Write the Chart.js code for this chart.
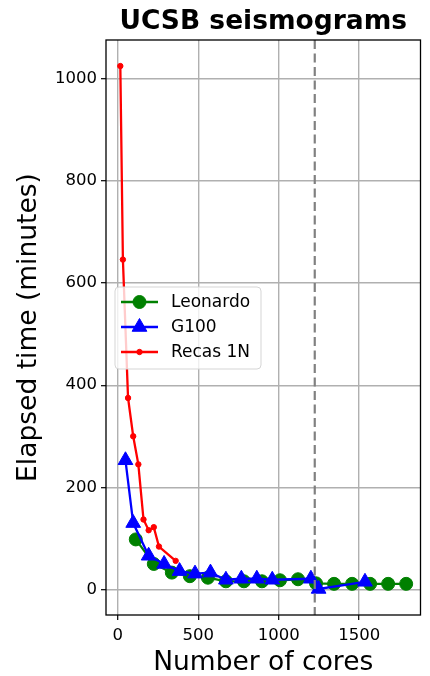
<!DOCTYPE html>
<html>
<head>
<meta charset="utf-8">
<script src="https://cdn.jsdelivr.net/npm/chart.js@4.4.1/dist/chart.umd.min.js"></script>
<style>
html,body{margin:0;padding:0;background:#fff;}
#wrap{width:430px;height:676px;position:relative;}
canvas{display:block;}
</style>
</head>
<body>
<div id="wrap"><canvas id="c" width="430" height="676"></canvas></div>
<script>
// ---- data ----
const leonardoCores = [112, 224, 336, 448, 560, 672, 784, 896, 1008, 1120, 1232, 1344, 1456, 1568, 1680, 1792];
const leonardoTime  = [98, 50, 33, 26, 23, 16, 16, 16, 18, 20, 12, 11, 11, 11, 11, 11];

const g100Cores = [48, 96, 192, 288, 384, 480, 576, 672, 768, 864, 960, 1200, 1248, 1536];
const g100Time  = [253, 130, 66, 50, 36, 31, 33, 19, 21, 21, 19, 21, 1, 15];

const recasCores = [16, 32, 64, 96, 128, 160, 192, 224, 256, 360];
const recasTime  = [1025, 646, 375, 300, 245, 137, 116, 122, 84, 56];

const seriesNames = ['Leonardo', 'G100', 'Recas 1N'];
const xTicks = [0, 500, 1000, 1500];
const yTicks = [0, 200, 400, 600, 800, 1000];
const refLineCores = [1224];

const FONT = "'DejaVu Sans', 'Liberation Sans', sans-serif";

function pts(xs, ys) { return xs.map((x, i) => ({ x: x, y: ys[i] })); }

const styles = [
  { color: '#008000', pointStyle: 'circle', radius: 6.5, lw: 2.3 },
  { color: '#0000ff', pointStyle: 'triangle', radius: 8.5, lw: 2.3 },
  { color: '#ff0000', pointStyle: 'circle', radius: 2.7, lw: 2.3 }
];

const datasets = [
  { xs: leonardoCores, ys: leonardoTime },
  { xs: g100Cores, ys: g100Time },
  { xs: recasCores, ys: recasTime }
].map((s, i) => ({
  label: seriesNames[i],
  data: pts(s.xs, s.ys),
  borderColor: styles[i].color,
  backgroundColor: styles[i].color,
  pointBackgroundColor: styles[i].color,
  pointBorderColor: styles[i].color,
  pointBorderWidth: 1,
  pointStyle: styles[i].pointStyle,
  pointRadius: styles[i].radius,
  borderWidth: styles[i].lw,
  tension: 0,
  fill: false,
  order: 3 - i
}));

const overlay = {
  id: 'overlay',
  afterDatasetsDraw(chart) {
    const ctx = chart.ctx, a = chart.chartArea;
    const xs = chart.scales.x;
    // dashed reference line
    ctx.save();
    ctx.beginPath();
    ctx.rect(a.left, a.top, a.right - a.left, a.bottom - a.top);
    ctx.clip();
    refLineCores.forEach(v => {
      const px = xs.getPixelForValue(v);
      ctx.strokeStyle = '#808080';
      ctx.lineWidth = 2.2;
      ctx.setLineDash([9, 4.5]);
      ctx.beginPath();
      ctx.moveTo(px, a.top);
      ctx.lineTo(px, a.bottom);
      ctx.stroke();
    });
    ctx.restore();
    // frame
    ctx.save();
    ctx.strokeStyle = '#000';
    ctx.lineWidth = 1.3;
    ctx.strokeRect(a.left, a.top, a.right - a.left, a.bottom - a.top);
    ctx.restore();
    // legend
    ctx.save();
    const lx = a.left + 9, ly = a.top + 247, lw = 146, lh = 82;
    ctx.beginPath();
    if (ctx.roundRect) ctx.roundRect(lx, ly, lw, lh, 4); else ctx.rect(lx, ly, lw, lh);
    ctx.fillStyle = 'rgba(255,255,255,0.8)';
    ctx.fill();
    ctx.strokeStyle = '#d5d5d5';
    ctx.lineWidth = 1;
    ctx.stroke();
    chart.data.datasets.forEach((ds, i) => {
      const cy = ly + 15 + i * 25;
      const x0 = lx + 6, x1 = lx + 43, cx = (x0 + x1) / 2;
      ctx.strokeStyle = ds.borderColor;
      ctx.lineWidth = ds.borderWidth;
      ctx.setLineDash([]);
      ctx.beginPath();
      ctx.moveTo(x0, cy); ctx.lineTo(x1, cy);
      ctx.stroke();
      ctx.fillStyle = ds.pointBackgroundColor;
      ctx.strokeStyle = ds.pointBorderColor;
      ctx.lineWidth = 1;
      Chart.helpers.drawPoint(ctx, { pointStyle: ds.pointStyle, radius: ds.pointRadius, borderWidth: 1, rotation: 0 }, cx, cy);
      ctx.fillStyle = '#000';
      ctx.font = '17px ' + FONT;
      ctx.textBaseline = 'middle';
      ctx.textAlign = 'left';
      ctx.fillText(ds.label, lx + 56, cy + 1);
    });
    ctx.restore();
  }
};

new Chart(document.getElementById('c'), {
  type: 'line',
  data: { datasets: datasets },
  options: {
    responsive: false,
    animation: false,
    devicePixelRatio: 1,
    layout: { padding: { left: 0, right: 2, top: 0, bottom: 0 } },
    plugins: {
      legend: { display: false },
      tooltip: { enabled: false },
      title: {
        display: true,
        text: 'UCSB seismograms',
        fullSize: false,
        color: '#000',
        font: { family: FONT, size: 26.5, weight: 'bold', lineHeight: 1.2 },
        padding: { top: 6, bottom: 2.2 }
      }
    },
    scales: {
      x: {
        type: 'linear',
        min: -73, max: 1881,
        afterBuildTicks: s => { s.ticks = xTicks.map(v => ({ value: v })); },
        afterFit: s => { s.height = 61; },
        border: { display: false },
        grid: { color: '#b0b0b0', lineWidth: 1.4, tickColor: '#000', tickLength: 5, tickWidth: 1.2 },
        ticks: { color: '#000', font: { family: FONT, size: 16.5 }, padding: 6, maxRotation: 0, autoSkip: false, callback: v => String(v) },
        title: { display: true, text: 'Number of cores', color: '#000', font: { family: FONT, size: 26.5, lineHeight: 1.0 }, padding: { top: 0, bottom: 0 } }
      },
      y: {
        type: 'linear',
        min: -50, max: 1076,
        afterBuildTicks: s => { s.ticks = yTicks.map(v => ({ value: v })); },
        afterFit: s => { s.width = 106; },
        border: { display: false },
        grid: { color: '#b0b0b0', lineWidth: 1.4, tickColor: '#000', tickLength: 5, tickWidth: 1.2 },
        ticks: { color: '#000', font: { family: FONT, size: 16.5 }, padding: 4, autoSkip: false, callback: v => String(v) },
        title: { display: true, text: 'Elapsed time (minutes)', color: '#000', font: { family: FONT, size: 26.5, lineHeight: 1.0 }, padding: { top: 16, bottom: 0 } }
      }
    }
  },
  plugins: [overlay]
});
</script>
</body>
</html>
